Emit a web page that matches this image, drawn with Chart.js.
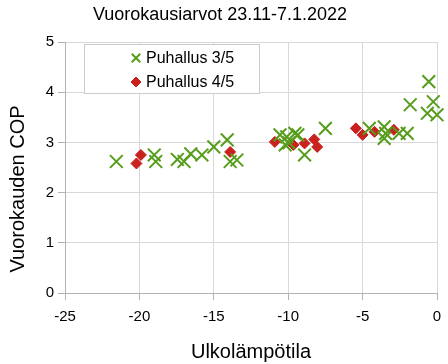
<!DOCTYPE html>
<html>
<head>
<meta charset="utf-8">
<script src="https://cdn.jsdelivr.net/npm/chart.js@4"></script>
<style>
  html, body { margin: 0; padding: 0; background: #fff; }
  #wrap { width: 448px; height: 364px; }
</style>
</head>
<body>
<div id="wrap"><canvas id="copChart" width="448" height="364"></canvas></div>
<script>
// Puhallus 3/5
const blow3X = [-21.55, -19.0, -18.9, -17.45, -17.0, -16.55, -15.8, -15.0, -14.1, -13.9, -13.45,
  -10.55, -10.1, -10.2, -9.55, -9.35, -9.95, -8.9, -7.5,
  -4.55, -3.55, -3.55, -3.45, -2.55, -2.0, -1.8, -0.55, -0.25, -0.65, 0.0];
const blow3Y = [2.62, 2.75, 2.62, 2.66, 2.62, 2.77, 2.75, 2.91, 3.05, 2.62, 2.65,
  3.15, 3.11, 2.95, 3.18, 3.15, 2.99, 2.75, 3.28,
  3.28, 3.31, 3.08, 3.18, 3.18, 3.18, 3.75, 4.21, 3.81, 3.58, 3.55];
// Puhallus 4/5
const blow4X = [-20.2, -19.9, -13.9, -10.9, -9.65, -8.9, -8.25, -8.05, -5.45, -5.0, -4.2, -2.9];
const blow4Y = [2.58, 2.75, 2.81, 3.01, 2.95, 2.98, 3.06, 2.91, 3.28, 3.15, 3.21, 3.25];

const seriesNames = ['Puhallus 3/5', 'Puhallus 4/5'];
const xTitle = 'Ulkolämpötila';
const yTitle = 'Vuorokauden COP';
const chartTitle = 'Vuorokausiarvot 23.11-7.1.2022';

const GREEN = '#579d1c';
const RED = '#c9211e';
const FONT = "'Liberation Sans', Arial, sans-serif";

function toPoints(xs, ys) {
  return xs.map((x, i) => ({ x: x, y: ys[i] }));
}

// legend box inside the plot + rotated y title
const extras = {
  id: 'extras',
  afterDatasetsDraw(chart) {
    const c = chart.ctx;
    c.save();
    c.fillStyle = '#ffffff';
    c.fillRect(84, 44, 175, 49);
    c.strokeStyle = '#cccccc';
    c.lineWidth = 1;
    c.strokeRect(84.5, 44.5, 175, 49);
    const styles = [
      { pointStyle: 'crossRot', radius: 6, borderWidth: 2, borderColor: GREEN, backgroundColor: GREEN },
      { pointStyle: 'rectRot', radius: 5, borderWidth: 1, borderColor: RED, backgroundColor: RED }
    ];
    c.font = '16px ' + FONT;
    c.textBaseline = 'middle';
    c.textAlign = 'left';
    seriesNames.forEach((name, i) => {
      const y = 58 + i * 24;
      c.fillStyle = styles[i].backgroundColor;
      c.strokeStyle = styles[i].borderColor;
      c.lineWidth = styles[i].borderWidth;
      Chart.helpers.drawPoint(c, styles[i], 136, y);
      c.fillStyle = '#000';
      c.fillText(name, 146, y + 1);
    });
    c.restore();
  },
  afterDraw(chart) {
    const c = chart.ctx;
    c.save();
    c.translate(18, 189);
    c.rotate(-Math.PI / 2);
    c.font = '20px ' + FONT;
    c.fillStyle = '#000';
    c.textAlign = 'center';
    c.textBaseline = 'middle';
    c.fillText(yTitle, 0, 0);
    c.restore();
  }
};

new Chart(document.getElementById('copChart'), {
  type: 'scatter',
  data: {
    datasets: [
      {
        label: seriesNames[0],
        data: toPoints(blow3X, blow3Y),
        pointStyle: 'crossRot',
        pointRadius: 9,
        pointHoverRadius: 9,
        borderWidth: 2,
        borderColor: GREEN,
        backgroundColor: GREEN,
        clip: false
      },
      {
        label: seriesNames[1],
        data: toPoints(blow4X, blow4Y),
        pointStyle: 'rectRot',
        pointRadius: 5.5,
        pointHoverRadius: 5.5,
        borderWidth: 1,
        borderColor: RED,
        backgroundColor: RED,
        clip: false
      }
    ]
  },
  options: {
    responsive: false,
    animation: false,
    layout: { padding: { left: 0, right: 8, top: 0, bottom: 0 } },
    scales: {
      x: {
        type: 'linear',
        min: -25,
        max: 0,
        ticks: { stepSize: 5, color: '#000', padding: 8, font: { family: FONT, size: 15 } },
        grid: { color: '#d9d9d9', tickColor: '#b3b3b3', tickLength: 7 },
        border: { color: '#b3b3b3' },
        title: { display: true, text: xTitle, color: '#000', padding: 0, font: { family: FONT, size: 20 } },
        afterFit(scale) {
          scale.height = 71;
          scale.paddingRight = 0;
          scale.paddingLeft = 0;
        }
      },
      y: {
        min: 0,
        max: 5,
        ticks: { stepSize: 1, color: '#000', padding: 4, font: { family: FONT, size: 15 } },
        grid: { color: '#d9d9d9', tickColor: '#b3b3b3', tickLength: 7 },
        border: { color: '#b3b3b3' },
        afterFit(scale) { scale.width = 65; }
      }
    },
    plugins: {
      legend: { display: false },
      tooltip: { enabled: false },
      title: {
        display: true,
        text: chartTitle,
        color: '#000',
        padding: { top: 4, bottom: 16.4 },
        font: { family: FONT, size: 18, weight: 'normal' }
      }
    }
  },
  plugins: [extras]
});
</script>
</body>
</html>
